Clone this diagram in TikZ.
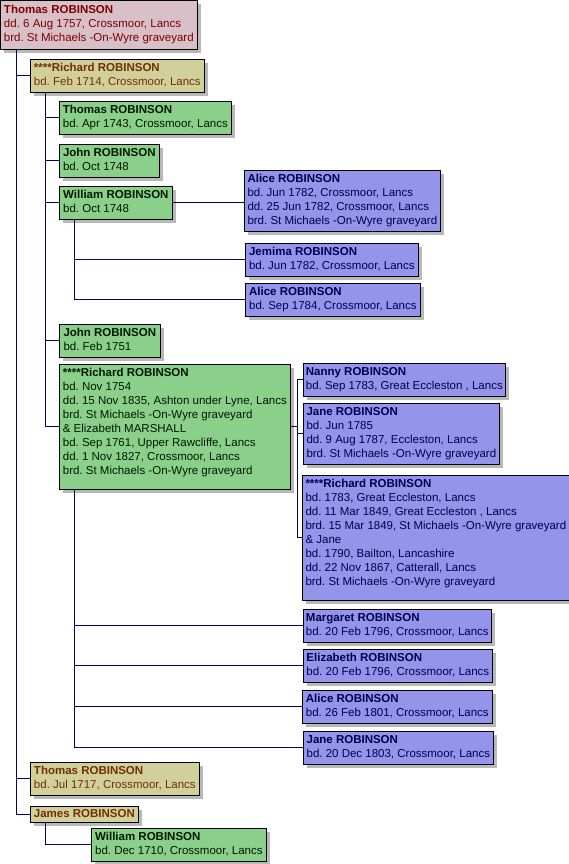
\documentclass[tikz,border=0pt]{standalone}
\usepackage{fontspec}
\setmainfont{Liberation Sans}
\usetikzlibrary{shadows,calc}
\definecolor{rootfill}{HTML}{D8C0C8}
\definecolor{roottext}{HTML}{800000}
\definecolor{khakifill}{HTML}{D2D09A}
\definecolor{khakitext}{HTML}{703000}
\definecolor{greenfill}{HTML}{8AD08A}
\definecolor{greentext}{HTML}{001800}
\definecolor{bluefill}{HTML}{9494EA}
\definecolor{bluetext}{HTML}{000050}
\definecolor{navyline}{HTML}{000080}
\definecolor{shadowgray}{HTML}{B8B8B8}
\frenchspacing
\tikzset{
  person/.style={draw=black, line width=0.7pt, anchor=north west, align=left,
    inner xsep=2.5pt, inner ysep=2.5pt, font=\fontsize{11.5}{14}\selectfont\frenchspacing,
    drop shadow={shadow xshift=4pt, shadow yshift=-4pt, fill=shadowgray, opacity=1}},
  rootbox/.style={person, fill=rootfill, text=roottext},
  genone/.style={person, fill=khakifill, text=khakitext},
  gentwo/.style={person, fill=greenfill, text=greentext},
  genthree/.style={person, fill=bluefill, text=bluetext},
  link/.style={draw=navyline, line width=0.9pt}
}
\begin{document}
\begin{tikzpicture}[x=1pt,y=-1pt]
\useasboundingbox[fill=white] (0,0) rectangle (569,864);

% people
\node[rootbox, minimum width=197pt, minimum height=49pt] (root) at (0,0)
  {\strut\textbf{Thomas ROBINSON}\\dd. 6 Aug 1757, Crossmoor, Lancs\\brd. St Michaels -On-Wyre graveyard\strut};
\node[genone, minimum width=174pt] (r1714) at (30,59)
  {\strut\textbf{****Richard ROBINSON}\\bd. Feb 1714, Crossmoor, Lancs\strut};
\node[gentwo, minimum width=172pt] (t1743) at (59,101)
  {\strut\textbf{Thomas ROBINSON}\\bd. Apr 1743, Crossmoor, Lancs\strut};
\node[gentwo, minimum width=100pt] (j1748) at (59,144)
  {\strut\textbf{John ROBINSON}\\bd. Oct 1748\strut};
\node[gentwo, minimum width=113pt] (w1748) at (59,186)
  {\strut\textbf{William ROBINSON}\\bd. Oct 1748\strut};
\node[genthree, minimum width=196pt] (a1782) at (244,170)
  {\strut\textbf{Alice ROBINSON}\\bd. Jun 1782, Crossmoor, Lancs\\dd. 25 Jun 1782, Crossmoor, Lancs\\brd. St Michaels -On-Wyre graveyard\strut};
\node[genthree, minimum width=173pt] (jem) at (245,243)
  {\strut\textbf{Jemima ROBINSON}\\bd. Jun 1782, Crossmoor, Lancs\strut};
\node[genthree, minimum width=175pt] (a1784) at (245,283)
  {\strut\textbf{Alice ROBINSON}\\bd. Sep 1784, Crossmoor, Lancs\strut};
\node[gentwo, minimum width=101pt] (j1751) at (59,324)
  {\strut\textbf{John ROBINSON}\\bd. Feb 1751\strut};
\node[gentwo, minimum width=231pt] (r1754) at (59,364)
  {\strut\textbf{****Richard ROBINSON}\\bd. Nov 1754\\dd. 15 Nov 1835, Ashton under Lyne, Lancs\\brd. St Michaels -On-Wyre graveyard\\\& Elizabeth MARSHALL\\bd. Sep 1761, Upper Rawcliffe, Lancs\\dd. 1 Nov 1827, Crossmoor, Lancs\\brd. St Michaels -On-Wyre graveyard\\[-6pt]\strut};
\node[genthree, minimum width=202pt] (nanny) at (303,363)
  {\strut\textbf{Nanny ROBINSON}\\bd. Sep 1783, Great Eccleston , Lancs\strut};
\node[genthree, minimum width=196pt] (jane1785) at (303,403)
  {\strut\textbf{Jane ROBINSON}\\bd. Jun 1785\\dd. 9 Aug 1787, Eccleston, Lancs\\brd. St Michaels -On-Wyre graveyard\strut};
\node[genthree, minimum width=267pt] (r1783) at (302,475)
  {\strut\textbf{****Richard ROBINSON}\\bd. 1783, Great Eccleston, Lancs\\dd. 11 Mar 1849, Great Eccleston , Lancs\\brd. 15 Mar 1849, St Michaels -On-Wyre graveyard\\\& Jane\\bd. 1790, Bailton, Lancashire\\dd. 22 Nov 1867, Catterall, Lancs\\brd. St Michaels -On-Wyre graveyard\\[-6pt]\strut};
\node[genthree, minimum width=188pt] (marg) at (303,609)
  {\strut\textbf{Margaret ROBINSON}\\bd. 20 Feb 1796, Crossmoor, Lancs\strut};
\node[genthree, minimum width=189pt] (eliz) at (303,649)
  {\strut\textbf{Elizabeth ROBINSON}\\bd. 20 Feb 1796, Crossmoor, Lancs\strut};
\node[genthree, minimum width=190pt] (a1801) at (302,690)
  {\strut\textbf{Alice ROBINSON}\\bd. 26 Feb 1801, Crossmoor, Lancs\strut};
\node[genthree, minimum width=190pt] (jane1803) at (303,731)
  {\strut\textbf{Jane ROBINSON}\\bd. 20 Dec 1803, Crossmoor, Lancs\strut};
\node[genone, minimum width=169pt] (t1717) at (30,762)
  {\strut\textbf{Thomas ROBINSON}\\bd. Jul 1717, Crossmoor, Lancs\strut};
\node[genone, minimum width=108pt, inner ysep=1pt] (james) at (30,806)
  {\strut\textbf{James ROBINSON}\strut};
\node[gentwo, minimum width=175pt] (w1710) at (91,828)
  {\strut\textbf{William ROBINSON}\\bd. Dec 1710, Crossmoor, Lancs\strut};

% connectors
\coordinate (roottrunk) at ($(root.south west)+(16,0)$);
\draw[link] (roottrunk) |- (r1714.west);
\draw[link] (roottrunk) |- (t1717.west);
\draw[link] (roottrunk) |- (james.west);

\coordinate (rtrunk) at ($(r1714.south west)+(15,0)$);
\draw[link] (rtrunk) |- (t1743.west);
\draw[link] (rtrunk) |- (j1748.west);
\draw[link] (rtrunk) |- (w1748.west);
\draw[link] (rtrunk) |- (j1751.west);
\draw[link] (rtrunk) |- (r1754.west);

\draw[link] (w1748.east) -- (w1748.east -| a1782.west);
\coordinate (wtrunk) at ($(w1748.south west)+(15,0)$);
\draw[link] (wtrunk) |- (jem.west);
\draw[link] (wtrunk) |- (a1784.west);

\draw[link] (r1754.east) -- ++(7,0) coordinate (rbracket);
\draw[link] (rbracket) |- (nanny.west);
\draw[link] (rbracket) |- (jane1785.west);
\draw[link] (rbracket) |- (r1783.west);

\coordinate (r54trunk) at ($(r1754.south west)+(15,0)$);
\draw[link] (r54trunk) |- (marg.west);
\draw[link] (r54trunk) |- (eliz.west);
\draw[link] (r54trunk) |- (a1801.west);
\draw[link] (r54trunk) |- (jane1803.west);

\coordinate (jtrunk) at ($(james.south west)+(15,0)$);
\draw[link] (jtrunk) |- (w1710.west);
\end{tikzpicture}
\end{document}
